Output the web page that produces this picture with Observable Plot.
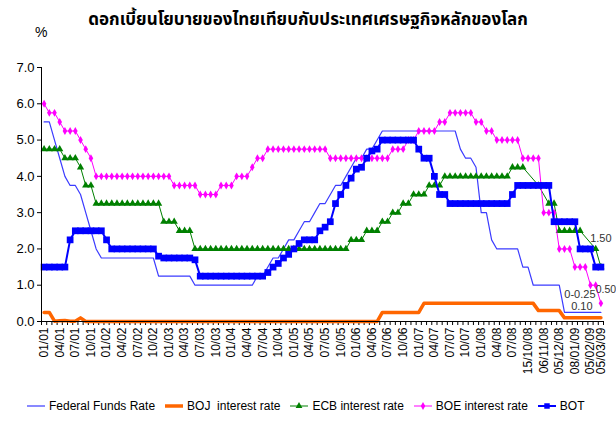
<!DOCTYPE html>
<html><head><meta charset="utf-8">
<script src="https://cdn.jsdelivr.net/npm/d3@7"></script>
<script src="https://cdn.jsdelivr.net/npm/@observablehq/plot@0.6"></script>
<style>
body{margin:0;background:#fff;}
#wrap{position:relative;width:616px;height:427px;font-family:"Liberation Sans",Arial,sans-serif;color:#000;}
#title{position:absolute;top:7px;left:0;width:616px;text-align:center;font-weight:bold;font-size:17px;font-family:"Noto Sans Thai","Noto Sans","DejaVu Sans",sans-serif;white-space:nowrap;}
#pct{position:absolute;left:35px;top:24px;font-size:14px;}
#legend{position:absolute;left:26px;top:399px;display:flex;align-items:center;font-size:12px;white-space:nowrap;}
#legend .it{display:flex;align-items:center;margin-right:9px;}
#legend svg{margin-right:3px;}
#chart{position:absolute;left:0;top:0;}
</style></head>
<body>
<div id="wrap">
  <div id="chart"></div>
  <div id="title">ดอกเบี้ยนโยบายของไทยเทียบกับประเทศเศรษฐกิจหลักของโลก</div>
  <div id="pct">%</div>
  <div id="legend"></div>
</div>
<script>
// x-axis tick labels and the category index where each appears
const axisLabels = ["01/01","04/01","07/01","10/01","01/02","04/02","07/02","10/02","01/03","04/03","07/03","10/03",
  "01/04","04/04","07/04","10/04","01/05","04/05","07/05","10/05","01/06","04/06","07/06","10/06",
  "01/07","04/07","07/07","10/07","01/08","04/08","07/08","15/10/08","06/11/08","05/12/08","08/01/09","05/02/09","05/03/09"];
const labelIndex = [0,3,6,9,12,15,18,21,24,27,30,33,36,39,42,45,48,51,54,57,60,63,66,69,72,75,78,81,84,87,90,93,96,99,102,105,107];
const yTicks = [0,1,2,3,4,5,6,7];

const seriesNames = ["Federal Funds Rate","BOJ  interest rate","ECB interest rate","BOE interest rate","BOT"];

const fed = [
  5.5,5.5,5.0,4.5,4.0,3.75,3.75,3.5,3.0,2.5,2.0,1.75,
  1.75,1.75,1.75,1.75,1.75,1.75,1.75,1.75,1.75,1.75,1.25,1.25,
  1.25,1.25,1.25,1.25,1.25,1.0,1.0,1.0,1.0,1.0,1.0,1.0,
  1.0,1.0,1.0,1.0,1.0,1.25,1.25,1.5,1.75,1.75,2.0,2.25,
  2.25,2.5,2.75,2.75,3.0,3.25,3.25,3.5,3.75,3.75,4.0,4.25,
  4.5,4.5,4.75,4.75,5.0,5.25,5.25,5.25,5.25,5.25,5.25,5.25,
  5.25,5.25,5.25,5.25,5.25,5.25,5.25,5.25,4.75,4.5,4.5,4.25,
  3.0,3.0,2.25,2.0,2.0,2.0,2.0,2.0,
  1.5,1.5,1.0,1.0,1.0,1.0,1.0,1.0,0.25,0.25,0.25,0.25,0.25,0.25,0.25,0.25];

const boj = [
  0.25,0.25,0.01,0.02,0.03,0.01,0.01,0.1,0.0,0.0,0.0,0.0,
  0,0,0,0,0,0,0,0,0,0,0,0,
  0,0,0,0,0,0,0,0,0,0,0,0,
  0,0,0,0,0,0,0,0,0,0,0,0,
  0,0,0,0,0,0,0,0,0,0,0,0,
  0,0,0,0,0,0.25,0.25,0.25,0.25,0.25,0.25,0.25,
  0.25,0.5,0.5,0.5,0.5,0.5,0.5,0.5,0.5,0.5,0.5,0.5,
  0.5,0.5,0.5,0.5,0.5,0.5,0.5,0.5,
  0.5,0.5,0.5,0.3,0.3,0.3,0.3,0.3,0.1,0.1,0.1,0.1,0.1,0.1,0.1,0.1];

const ecb = [
  4.75,4.75,4.75,4.75,4.5,4.5,4.5,4.25,3.75,3.75,3.25,3.25,
  3.25,3.25,3.25,3.25,3.25,3.25,3.25,3.25,3.25,3.25,3.25,2.75,
  2.75,2.75,2.5,2.5,2.5,2.0,2.0,2.0,2.0,2.0,2.0,2.0,
  2.0,2.0,2.0,2.0,2.0,2.0,2.0,2.0,2.0,2.0,2.0,2.0,
  2.0,2.0,2.0,2.0,2.0,2.0,2.0,2.0,2.0,2.0,2.0,2.25,
  2.25,2.25,2.5,2.5,2.5,2.75,2.75,3.0,3.0,3.25,3.25,3.5,
  3.5,3.5,3.75,3.75,3.75,4.0,4.0,4.0,4.0,4.0,4.0,4.0,
  4.0,4.0,4.0,4.0,4.0,4.0,4.25,4.25,
  4.25,null,null,3.75,null,3.25,3.25,2.5,2.5,2.5,2.5,2.5,null,null,2.0,1.5];

const boe = [
  6.0,5.75,5.75,5.5,5.25,5.25,5.25,5.0,4.75,4.5,4.0,4.0,
  4.0,4.0,4.0,4.0,4.0,4.0,4.0,4.0,4.0,4.0,4.0,4.0,
  4.0,3.75,3.75,3.75,3.75,3.75,3.5,3.5,3.5,3.5,3.75,3.75,
  3.75,4.0,4.0,4.0,4.25,4.5,4.5,4.75,4.75,4.75,4.75,4.75,
  4.75,4.75,4.75,4.75,4.75,4.75,4.75,4.5,4.5,4.5,4.5,4.5,
  4.5,4.5,4.5,4.5,4.5,4.5,4.5,4.75,4.75,4.75,5.0,5.0,
  5.25,5.25,5.25,5.25,5.5,5.5,5.75,5.75,5.75,5.75,5.75,5.5,
  5.5,5.25,5.25,5.0,5.0,5.0,5.0,5.0,
  4.5,4.5,4.5,4.5,3.0,3.0,3.0,2.0,2.0,2.0,1.5,1.5,1.5,1.0,1.0,0.5];

const bot = [
  1.5,1.5,1.5,1.5,1.5,2.25,2.5,2.5,2.5,2.5,2.5,2.5,
  2.25,2.0,2.0,2.0,2.0,2.0,2.0,2.0,2.0,2.0,1.8,1.75,
  1.75,1.75,1.75,1.75,1.75,1.7,1.25,1.25,1.25,1.25,1.25,1.25,
  1.25,1.25,1.25,1.25,1.25,1.25,1.25,1.35,1.5,1.6,1.75,1.85,
  2.0,2.15,2.25,2.25,2.25,2.5,2.6,2.75,3.25,3.5,3.75,3.95,
  4.2,4.25,4.5,4.7,4.75,5.0,5.0,5.0,5.0,5.0,5.0,5.0,
  4.75,4.5,4.5,4.0,3.5,3.5,3.25,3.25,3.25,3.25,3.25,3.25,
  3.25,3.25,3.25,3.25,3.25,3.25,3.5,3.75,
  3.75,3.75,3.75,3.75,3.75,3.75,2.75,2.75,2.75,2.75,2.75,2.0,2.0,2.0,1.5,1.5];

const colors = {fed:"#3b3bff", boj:"#ff6600", ecb:"#008000", boe:"#ff00ff", bot:"#0000ff"};

const N = fed.length;
const pts = arr => d3.range(N).map(i => ({i, v: arr[i]})).filter(d => d.v != null);
const last = arr => [{i: N - 1, v: arr[N - 1]}];

const chart = Plot.plot({
  width: 616, height: 427,
  marginTop: 67, marginBottom: 106, marginLeft: 41, marginRight: 13,
  style: {fontFamily: "'Liberation Sans', Arial, sans-serif", fontSize: "12px", background: "transparent", color: "#000", overflow: "visible"},
  x: {domain: [-0.5, N - 0.5]},
  y: {domain: [yTicks[0], yTicks[yTicks.length - 1]]},
  marks: [
    Plot.axisY({ticks: yTicks, tickFormat: d3.format(".1f"), tickSize: 4, tickPadding: 3, fontSize: 13, label: null}),
    Plot.axisX({ticks: d3.range(N + 1).map(k => k - 0.5), tickSize: 4, tickFormat: () => "", label: null}),
    Plot.axisX({ticks: labelIndex, tickFormat: d => axisLabels[labelIndex.indexOf(d)], tickSize: 0, tickPadding: 6, tickRotate: -90, fontSize: 12, label: null}),
    Plot.line(pts(fed), {x: "i", y: "v", stroke: colors.fed, strokeWidth: 1.2}),
    Plot.line(pts(boj), {x: "i", y: "v", stroke: colors.boj, strokeWidth: 3.5}),
    Plot.line(pts(ecb), {x: "i", y: "v", stroke: colors.ecb, strokeWidth: 1}),
    Plot.dot(pts(ecb), {x: "i", y: "v", symbol: "triangle", fill: colors.ecb, r: 2.7}),
    Plot.line(pts(boe), {x: "i", y: "v", stroke: colors.boe, strokeWidth: 1}),
    Plot.dot(pts(boe), {x: "i", y: "v", symbol: "diamond", fill: colors.boe, r: 2.4}),
    Plot.line(pts(bot), {x: "i", y: "v", stroke: colors.bot, strokeWidth: 2}),
    Plot.dot(pts(bot), {x: "i", y: "v", symbol: "square", fill: colors.bot, r: 3.8}),
    Plot.ruleY([yTicks[0]]),
    Plot.ruleX([-0.5], {y1: yTicks[0], y2: yTicks[yTicks.length - 1]}),
    Plot.text(last(bot), {x: "i", y: "v", text: d => d.v.toFixed(2), dy: -29, fontSize: 11, fill: "#333"}),
    Plot.text(last(fed), {x: "i", y: "v", text: d => "0-" + d.v.toFixed(2), dx: -21, dy: -18, fontSize: 11, fill: "#333"}),
    Plot.text(last(boj), {x: "i", y: "v", text: d => d.v.toFixed(2), dx: -19, dy: -11, fontSize: 11, fill: "#333"}),
    Plot.text(last(boe), {x: "i", y: "v", text: d => d.v.toFixed(2), dx: 5, dy: -14, fontSize: 10.5, fill: "#333"})
  ]
});
document.getElementById("chart").appendChild(chart);

// legend
const legendSpec = [
  {name: seriesNames[0], color: colors.fed, w: 1.2, sym: null},
  {name: seriesNames[1], color: colors.boj, w: 3.5, sym: null},
  {name: seriesNames[2], color: colors.ecb, w: 1, sym: d3.symbolTriangle, size: 20},
  {name: seriesNames[3], color: colors.boe, w: 1, sym: d3.symbolDiamond, size: 18},
  {name: seriesNames[4], color: colors.bot, w: 2, sym: d3.symbolSquare, size: 30}
];
const leg = d3.select("#legend");
legendSpec.forEach(s => {
  const it = leg.append("div").attr("class", "it");
  const sv = it.append("svg").attr("width", 20).attr("height", 10);
  sv.append("line").attr("x1", 1).attr("x2", 19).attr("y1", 5).attr("y2", 5).attr("stroke", s.color).attr("stroke-width", s.w);
  if (s.sym) sv.append("path").attr("d", d3.symbol(s.sym, s.size)()).attr("transform", "translate(10,5)").attr("fill", s.color);
  it.append("span").text(s.name).style("white-space", "pre");
});
</script>
</body></html>
